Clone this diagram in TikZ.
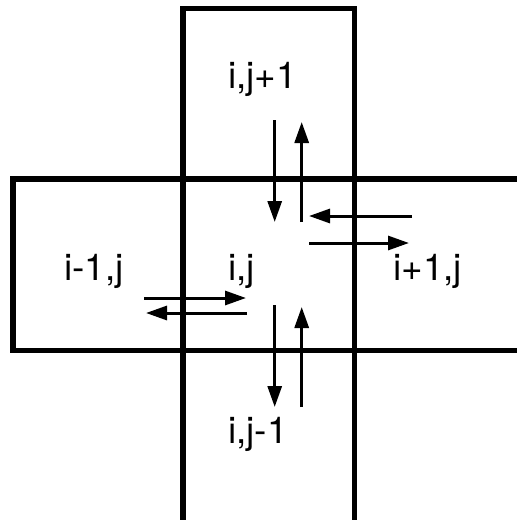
\documentclass[tikz,border=0pt]{standalone}
\usepackage{fontspec}
\setmainfont{TeX Gyre Heros}
\usetikzlibrary{arrows.meta}
\tikzset{
  cell/.style={line width=5.5pt},
  flux/.style={line width=3pt, -{Triangle[length=21pt,width=14pt]}},
  lbl/.style={font=\fontsize{37}{40}\selectfont, anchor=base west, inner sep=0pt}
}
\begin{document}
\begin{tikzpicture}[x=1pt, y=-1pt]
        \useasboundingbox (0,0) rectangle (517,520);
        \clip (0,0) rectangle (517,520);
        % cells
        \draw[cell] (183,8.5) rectangle (354.5,540);
        \draw[cell] (13,179) rectangle (540,350.5);
        % labels
        \node[lbl] (top) at (228,88) {i,j+1};
        \node[lbl] (left) at (64,280) {i-1,j};
        \node[lbl] (mid) at (228,280) {i,j};
        \node[lbl] (right) at (393,280) {i+1,j};
        \node[lbl] (bot) at (228,443) {i,j-1};
        % flux ends
        \coordinate (nA) at (274.7,120); \coordinate (nB) at (274.7,222);
        \coordinate (nC) at (301.7,222); \coordinate (nD) at (301.7,122);
        \coordinate (eA) at (412,216);   \coordinate (eB) at (309,216);
        \coordinate (eC) at (309,243);   \coordinate (eD) at (409,243);
        \coordinate (wA) at (144,298);   \coordinate (wB) at (246,298);
        \coordinate (wC) at (247,313);   \coordinate (wD) at (146,313);
        \coordinate (sA) at (274.7,305); \coordinate (sB) at (274.7,407);
        \coordinate (sC) at (301.7,407); \coordinate (sD) at (301.7,307);
        \foreach \s in {n,e,w,s}{%
            \draw[flux] (\s A) -- (\s B);
            \draw[flux] (\s C) -- (\s D);
        }
    \end{tikzpicture}
\end{document}
